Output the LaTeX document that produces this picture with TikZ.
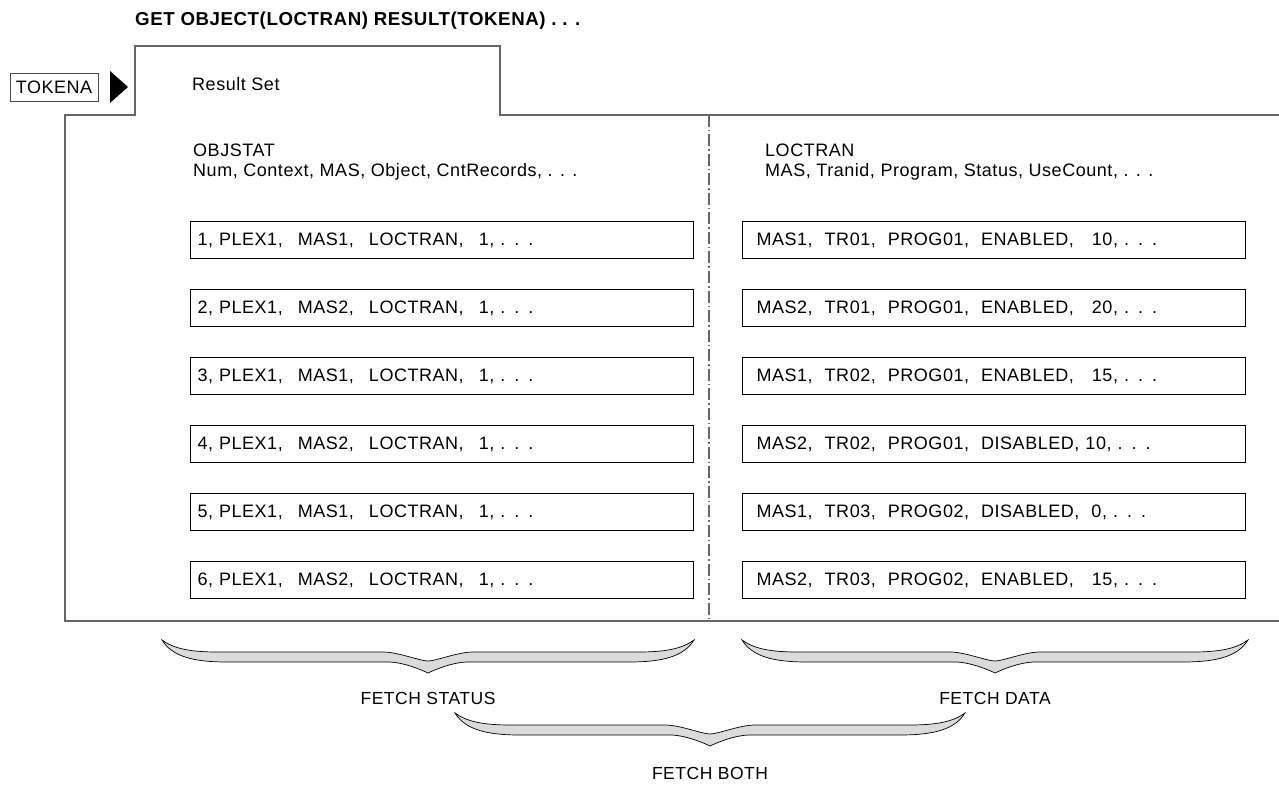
\documentclass[tikz,border=0pt]{standalone}
\usepackage{fontspec}
\setmainfont{Liberation Sans}[LetterSpace=3]
\newcommand{\fetchbrace}[3]{%
 \pgfmathsetmacro{\fbC}{(#1+#2)/2}
 \filldraw[bracefill] (#1,#3) .. controls ({#1+12},{#3+9}) and ({#1+30},{#3+12}) .. ({#1+55},{#3+12})
 -- ({\fbC-45},{#3+12}) .. controls ({\fbC-30},{#3+12}) and ({\fbC-8},{#3+21}) .. (\fbC,{#3+21})
 .. controls ({\fbC+8},{#3+21}) and ({\fbC+30},{#3+12}) .. ({\fbC+45},{#3+12})
 -- ({#2-55},{#3+12}) .. controls ({#2-30},{#3+12}) and ({#2-12},{#3+9}) .. (#2,#3)
 .. controls ({#2-10},{#3+16}) and ({#2-30},{#3+22}) .. ({#2-65},{#3+22})
 -- ({\fbC+40},{#3+22}) .. controls ({\fbC+25},{#3+22}) and ({\fbC+6},{#3+30}) .. (\fbC,{#3+33})
 .. controls ({\fbC-6},{#3+30}) and ({\fbC-25},{#3+22}) .. ({\fbC-40},{#3+22})
 -- ({#1+65},{#3+22}) .. controls ({#1+30},{#3+22}) and ({#1+10},{#3+16}) .. (#1,#3) -- cycle;
}
\newcommand{\gp}{\hspace{15pt}}
\begin{document}
\begin{tikzpicture}[x=1pt,y=-1pt,
  frame/.style={draw=black!60, line width=1.6pt},
  txt/.style={anchor=west, inner sep=0pt, font=\fontsize{18}{21}\selectfont},
  rec/.style={draw=black, line width=1pt, minimum width=503pt, minimum height=37pt,
     text width=489pt, inner xsep=7pt, inner ysep=0pt, align=left, anchor=west,
     font=\fontsize{18}{21}\selectfont},
  rrec/.style={rec, inner xsep=14pt, text width=475pt},
  bracefill/.style={fill=black!14, draw=black, line width=0.7pt},
  blabel/.style={inner sep=0pt, font=\fontsize{17.5}{21}\selectfont}]
\useasboundingbox (0,0) rectangle (1279,786);
% title
\node[txt, font=\fontsize{18.7}{21}\selectfont\bfseries] (title) at (135,21) {GET OBJECT(LOCTRAN) RESULT(TOKENA) . . .};
% token
\node[draw=black!70, line width=0.8pt, minimum width=88pt, minimum height=28pt, inner sep=0pt,
  font=\fontsize{18}{21}\selectfont] (tok) at (54,87) {TOKENA};
\fill (110,71) -- (128,87) -- (110,103) -- cycle;
% frame
\draw[frame] (1279,115) -- (500,115) -- (500,46) -- (135,46) -- (135,115) -- (65,115) -- (65,621) -- (1279,621);
\node[txt] (rs) at (192,84) {Result Set};
% divider
\draw[black!60, line width=1.2pt, dash pattern=on 12pt off 3pt on 1.5pt off 3pt] (709,115) -- (709,621);
% headers
\node[txt] (objstat) at (193,150) {OBJSTAT};
\node[txt] (objcols) at (193,172) {Num, Context, MAS, Object, CntRecords, . . .};
\node[txt] (loctran) at (765,150) {LOCTRAN};
\node[txt] (loccols) at (765,172) {MAS, Tranid, Program, Status, UseCount, . . .};
% left records
\node[rec] (l1) at (190,240) {1, PLEX1,\gp MAS1,\gp LOCTRAN,\gp 1, . . .};
\node[rec] (l2) at (190,308) {2, PLEX1,\gp MAS2,\gp LOCTRAN,\gp 1, . . .};
\node[rec] (l3) at (190,376) {3, PLEX1,\gp MAS1,\gp LOCTRAN,\gp 1, . . .};
\node[rec] (l4) at (190,444) {4, PLEX1,\gp MAS2,\gp LOCTRAN,\gp 1, . . .};
\node[rec] (l5) at (190,512) {5, PLEX1,\gp MAS1,\gp LOCTRAN,\gp 1, . . .};
\node[rec] (l6) at (190,580) {6, PLEX1,\gp MAS2,\gp LOCTRAN,\gp 1, . . .};
% right records
\node[rrec] (r1) at (742,240) {MAS1,\ \ TR01,\ \ PROG01,\ \ ENABLED,\ \ \ 10, . . .};
\node[rrec] (r2) at (742,308) {MAS2,\ \ TR01,\ \ PROG01,\ \ ENABLED,\ \ \ 20, . . .};
\node[rrec] (r3) at (742,376) {MAS1,\ \ TR02,\ \ PROG01,\ \ ENABLED,\ \ \ 15, . . .};
\node[rrec] (r4) at (742,444) {MAS2,\ \ TR02,\ \ PROG01,\ \ DISABLED,\ 10, . . .};
\node[rrec] (r5) at (742,512) {MAS1,\ \ TR03,\ \ PROG02,\ \ DISABLED,\ \ 0, . . .};
\node[rrec] (r6) at (742,580) {MAS2,\ \ TR03,\ \ PROG02,\ \ ENABLED,\ \ \ 15, . . .};
% braces
\fetchbrace{162}{694}{640}
\fetchbrace{742}{1248}{640}
\fetchbrace{455}{965}{713}
\node[blabel] (fs) at (428,698) {FETCH STATUS};
\node[blabel] (fd) at (995,698) {FETCH DATA};
\node[blabel] (fb) at (710,773) {FETCH BOTH};
\end{tikzpicture}
\end{document}
